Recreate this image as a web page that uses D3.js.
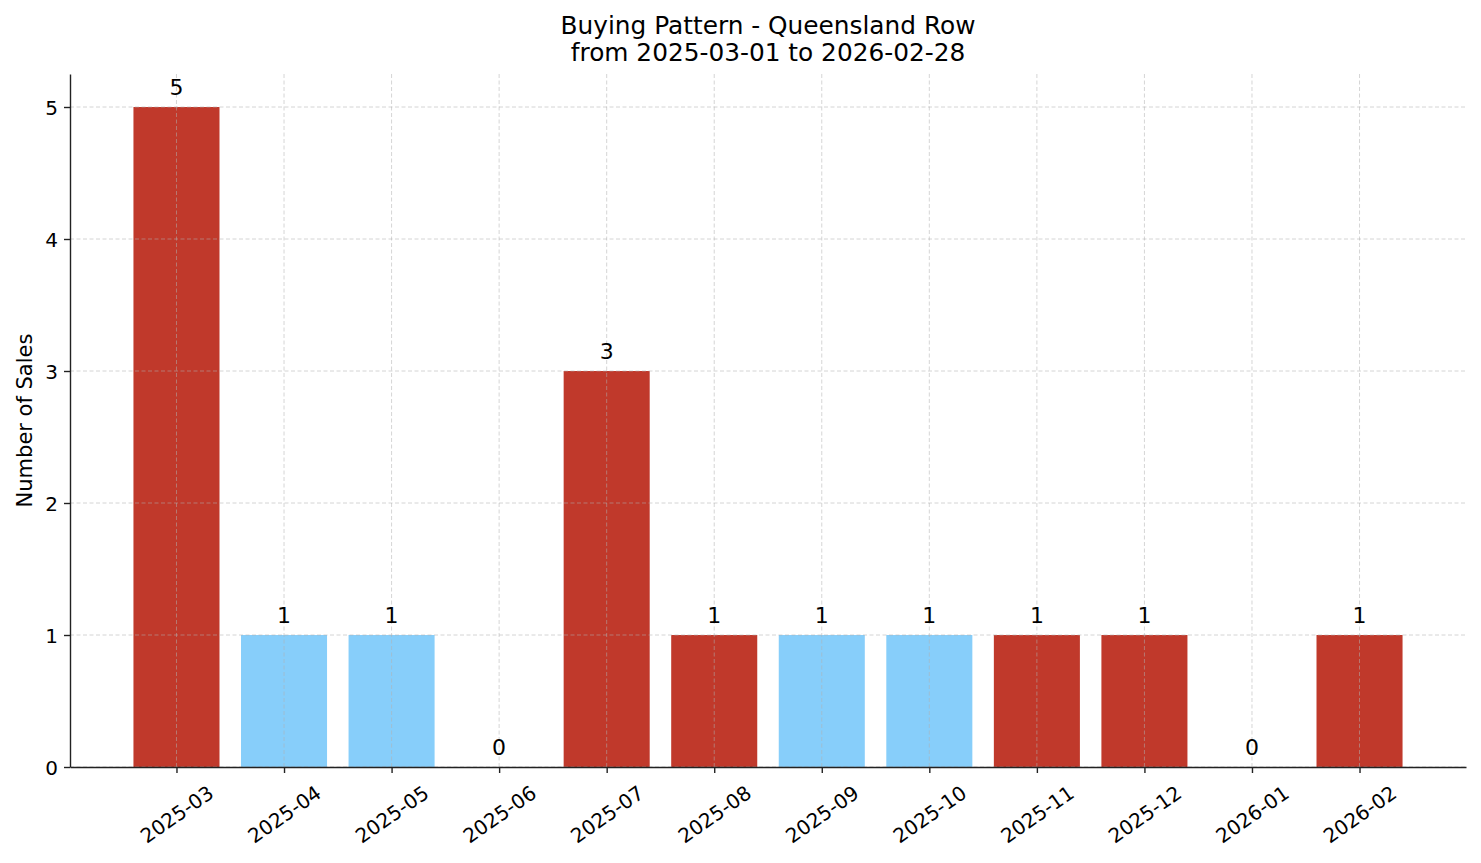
<!DOCTYPE html>
<html>
<head>
<meta charset="utf-8">
<script src="https://cdn.jsdelivr.net/npm/d3@7"></script>
<style>
  body { margin: 0; background: #fff; }
  text { font-family: "DejaVu Sans", sans-serif; fill: #000; }
</style>
</head>
<body>
<div id="chart"></div>
<script>
// data
const months = ["2025-03", "2025-04", "2025-05", "2025-06", "2025-07", "2025-08",
                "2025-09", "2025-10", "2025-11", "2025-12", "2026-01", "2026-02"];
const sales = [5, 1, 1, 0, 3, 1, 1, 1, 1, 1, 0, 1];
// months drawn in red vs light blue
const flagged = [true, false, false, true, true, true, false, false, true, true, true, true];
const yTicks = [0, 1, 2, 3, 4, 5];

const W = 1481, H = 863;
const margin = { top: 74, bottom: 96, left: 70, right: 15 };
const width = W - margin.left - margin.right;
const height = H - margin.top - margin.bottom;

const svg = d3.select("#chart").append("svg")
    .attr("width", W)
    .attr("height", H);

const g = svg.append("g").attr("transform", `translate(${margin.left},${margin.top})`);

// matplotlib-like band: 0.8 wide bars, 5% margins
const n = months.length;
const xlin = d3.scaleLinear().domain([-0.99, n - 1 + 0.99]).range([0, width]);
const step = xlin(1) - xlin(0);
const yscale = d3.scaleLinear().domain([0, 5.25]).range([height, 0]);

// bars
g.selectAll("rect.bar")
    .data(sales)
    .join("rect")
    .attr("class", "bar")
    .attr("x", (d, i) => xlin(i) - step * 0.4)
    .attr("width", step * 0.8)
    .attr("y", d => yscale(d))
    .attr("height", d => height - yscale(d))
    .attr("fill", (d, i) => flagged[i] ? "#c0392b" : "#87cefa");

// grid on top, faint
const grid = g.append("g").attr("class", "grid");
grid.selectAll("line.gx")
    .data(months)
    .join("line")
    .attr("x1", (d, i) => xlin(i)).attr("x2", (d, i) => xlin(i))
    .attr("y1", 0).attr("y2", height);
grid.selectAll("line.gy")
    .data(yTicks)
    .join("line")
    .attr("x1", 0).attr("x2", width)
    .attr("y1", d => yscale(d)).attr("y2", d => yscale(d));
grid.selectAll("line")
    .attr("stroke", "#b0b0b0")
    .attr("stroke-opacity", 0.6)
    .attr("stroke-width", 0.9)
    .attr("stroke-dasharray", "4,2.5");

// value labels
g.selectAll("text.val")
    .data(sales)
    .join("text")
    .attr("class", "val")
    .attr("x", (d, i) => xlin(i))
    .attr("y", d => yscale(d) - 12)
    .attr("text-anchor", "middle")
    .style("font-size", "22px")
    .text(d => d);

// y axis
const yaxis = d3.axisLeft(yscale).tickValues(yTicks).tickFormat(d3.format("d"))
    .tickSize(6).tickSizeOuter(0).tickPadding(6);
const g_yaxis = g.append("g").call(yaxis);
g_yaxis.selectAll("text").style("font-size", "20px").attr("dy", "0.35em");

// x axis
const xaxis = d3.axisBottom(xlin).tickValues(d3.range(n)).tickFormat(i => months[i])
    .tickSize(6).tickSizeOuter(0);
const g_xaxis = g.append("g").attr("transform", `translate(0,${height})`).call(xaxis);

[g_yaxis, g_xaxis].forEach(ax => {
    ax.select(".domain").attr("stroke", "#222").attr("stroke-width", 1.4);
    ax.selectAll(".tick line").attr("stroke", "#222").attr("stroke-width", 1.4);
});

// rotated tick labels, bounding box centred under tick
const ang = 35 * Math.PI / 180;
g_xaxis.selectAll(".tick text").each(function () {
    const t = d3.select(this)
        .style("font-size", "20px")
        .attr("text-anchor", "middle")
        .attr("dominant-baseline", "central")
        .attr("dy", null)
        .attr("y", 0);
    const bb = this.getBBox();
    const boxH = bb.width * Math.sin(ang) + bb.height * 0.75 * Math.cos(ang);
    const cy = 6 + 10 + boxH / 2;
    t.attr("transform", `translate(0,${cy}) rotate(-35)`);
});

// y label
svg.append("text")
    .attr("transform", `translate(32,${margin.top + height / 2}) rotate(-90)`)
    .attr("text-anchor", "middle")
    .style("font-size", "21px")
    .text("Number of Sales");

// title
const cx = margin.left + width / 2;
svg.append("text").attr("x", cx).attr("y", 34).attr("text-anchor", "middle")
    .style("font-size", "24.8px").text("Buying Pattern - Queensland Row");
svg.append("text").attr("x", cx).attr("y", 61).attr("text-anchor", "middle")
    .style("font-size", "24.8px").text("from 2025-03-01 to 2026-02-28");
</script>
</body>
</html>
